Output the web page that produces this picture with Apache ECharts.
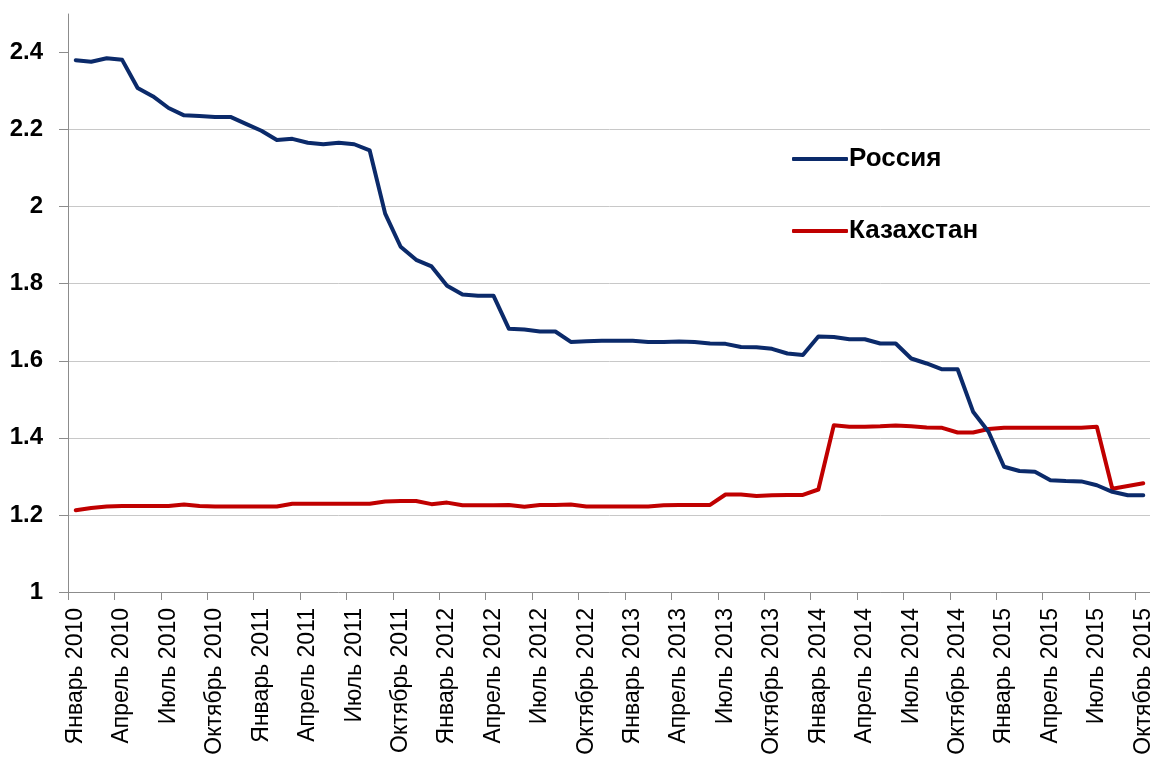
<!DOCTYPE html>
<html>
<head>
<meta charset="utf-8">
<script src="https://cdn.jsdelivr.net/npm/echarts@6/dist/echarts.min.js"></script>
<style>
html,body{margin:0;padding:0;background:#fff;}
#c{width:1150px;height:762px;}
</style>
</head>
<body>
<div id="c"></div>
<script>
var monthNames = ['Январь','Февраль','Март','Апрель','Май','Июнь','Июль','Август','Сентябрь','Октябрь','Ноябрь','Декабрь'];
var years = [2010, 2011, 2012, 2013, 2014, 2015];
var monthCount = 70;
var categories = [];
for (var k = 0; k < monthCount; k++) {
  categories.push(monthNames[k % 12] + ' ' + years[Math.floor(k / 12)]);
}

var russia = [2.38, 2.376, 2.385, 2.381, 2.308, 2.286, 2.256, 2.237, 2.235, 2.233,
  2.233, 2.215, 2.197, 2.173, 2.176, 2.166, 2.162, 2.166, 2.162, 2.146,
  1.982, 1.896, 1.862, 1.845, 1.795, 1.772, 1.769, 1.769, 1.683, 1.681,
  1.676, 1.676, 1.649, 1.651, 1.652, 1.652, 1.652, 1.649, 1.649, 1.65,
  1.649, 1.645, 1.644, 1.636, 1.635, 1.631, 1.619, 1.615, 1.663, 1.662,
  1.656, 1.656, 1.645, 1.645, 1.606, 1.593, 1.578, 1.578, 1.468, 1.416,
  1.325, 1.314, 1.312, 1.29, 1.288, 1.287, 1.277, 1.26, 1.251, 1.251];

var kazakhstan = [1.212, 1.218, 1.222, 1.223, 1.223, 1.223, 1.223, 1.227, 1.223, 1.222,
  1.222, 1.222, 1.222, 1.222, 1.229, 1.229, 1.229, 1.229, 1.229, 1.229,
  1.235, 1.236, 1.236, 1.228, 1.232, 1.225, 1.225, 1.225, 1.226, 1.221,
  1.226, 1.226, 1.227, 1.222, 1.222, 1.222, 1.222, 1.222, 1.225, 1.226,
  1.226, 1.226, 1.253, 1.253, 1.249, 1.251, 1.252, 1.252, 1.266, 1.433,
  1.429, 1.429, 1.43, 1.432, 1.43, 1.427, 1.426, 1.414, 1.414, 1.423,
  1.426, 1.426, 1.426, 1.426, 1.426, 1.426, 1.429, 1.268, 1.275, 1.282];

var yTicks = [1, 1.2, 1.4, 1.6, 1.8, 2, 2.2, 2.4];
var seriesNames = ['Россия', 'Казахстан'];

var chart = echarts.init(document.getElementById('c'), null, {renderer: 'canvas'});
chart.setOption({
  animation: false,
  backgroundColor: '#ffffff',
  grid: {left: 68, top: 14, right: -1, bottom: 170, containLabel: false, outerBoundsMode: 'none'},
  legend: {
    orient: 'vertical',
    left: 787,
    top: 141,
    itemGap: 46,
    itemWidth: 56,
    itemHeight: 4,
    icon: 'roundRect',
    textStyle: {fontFamily: 'Liberation Sans', fontWeight: 'bold', fontSize: 26, color: '#000', lineHeight: 26, padding: [0, 0, 0, -4]},
    data: seriesNames
  },
  xAxis: {
    type: 'category',
    data: categories,
    boundaryGap: true,
    axisLine: {lineStyle: {color: '#8c8c8c', width: 1}},
    axisTick: {show: true, interval: 2, length: 8, lineStyle: {color: '#8c8c8c'}},
    axisLabel: {interval: 2, rotate: 90, margin: 16, color: '#000', fontFamily: 'Liberation Sans', fontSize: 23, hideOverlap: false},
    splitLine: {show: false}
  },
  yAxis: {
    type: 'value',
    min: 1,
    max: 2.5,
    interval: 0.2,
    axisLine: {show: true, lineStyle: {color: '#8c8c8c', width: 1}},
    axisTick: {show: true, length: 9, lineStyle: {color: '#8c8c8c'}, customValues: yTicks},
    axisLabel: {margin: 25, color: '#000', fontFamily: 'Liberation Sans', fontWeight: 'bold', fontSize: 24,
      customValues: yTicks,
      formatter: function (v) { return String(+(+v).toFixed(1)); }},
    splitLine: {show: true, showMinLine: false, showMaxLine: false, lineStyle: {color: '#c8c8c8', width: 1}}
  },
  series: [
    {name: seriesNames[0], type: 'line', data: russia, symbol: 'none', showSymbol: false,
      lineStyle: {color: '#0b2a6a', width: 4, cap: 'round', join: 'round'}, itemStyle: {color: '#0b2a6a'}, z: 3},
    {name: seriesNames[1], type: 'line', data: kazakhstan, symbol: 'none', showSymbol: false,
      lineStyle: {color: '#c00000', width: 4, cap: 'round', join: 'round'}, itemStyle: {color: '#c00000'}, z: 2}
  ]
});
</script>
</body>
</html>
